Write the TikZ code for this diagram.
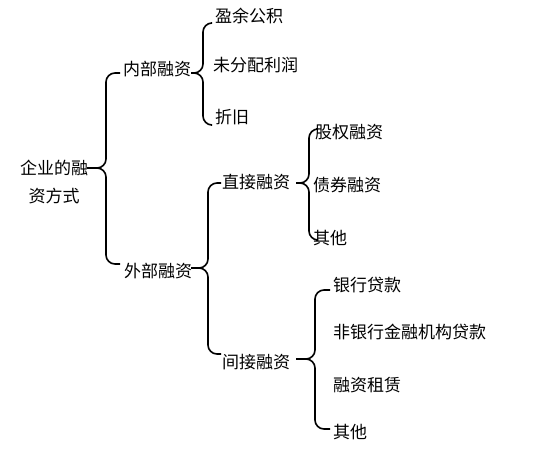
\documentclass[tikz,border=0pt]{standalone}
\usepackage{fontspec}
\setmainfont{Noto Sans CJK SC}
\begin{document}
\begin{tikzpicture}[x=1pt,y=-1pt,
  lbl/.style={anchor=west,inner sep=0pt,font=\fontsize{17}{28}\selectfont},
  brace/.style={line width=1.6pt,rounded corners=9pt},
  stub/.style={line width=2.6pt}]
\useasboundingbox (0,0) rectangle (544,453);
% texts
\node[inner sep=0pt,align=center,font=\fontsize{17}{28.5}\selectfont] (root) at (54,182) {企业的融\\资方式};
\node[lbl] (nb) at (123,69) {内部融资};
\node[lbl] (wb) at (124,271) {外部融资};
\node[lbl] (yy) at (215,16) {盈余公积};
\node[lbl] (wf) at (213,65) {未分配利润};
\node[lbl] (zj) at (215,117) {折旧};
\node[lbl] (zjr) at (222,182) {直接融资};
\node[lbl] (jjr) at (222,362) {间接融资};
\node[lbl] (gq) at (315,132) {股权融资};
\node[lbl] (zq) at (313,185) {债券融资};
\node[lbl] (qt1) at (313,238) {其他};
\node[lbl] (yh) at (333,285) {银行贷款};
\node[lbl] (fyh) at (333,332) {非银行金融机构贷款};
\node[lbl] (rz) at (333,385) {融资租赁};
\node[lbl] (qt2) at (333,432) {其他};
% brace anchors
\coordinate (b1s) at (87,168);  \coordinate (b1t) at (97,168);
\coordinate (b1a) at (120,73);  \coordinate (b1b) at (120,264);
\coordinate (b2s) at (191,73);  \coordinate (b2t) at (198,73);
\coordinate (b2a) at (211,23);  \coordinate (b2b) at (211,125);
\coordinate (b3s) at (191,268); \coordinate (b3t) at (200,268);
\coordinate (b3a) at (221,183); \coordinate (b3b) at (221,354);
\coordinate (b4s) at (296,183); \coordinate (b4t) at (304,183);
\coordinate (b4a) at (316,129); \coordinate (b4b) at (316,240);
\coordinate (b5s) at (296,359); \coordinate (b5t) at (308,359);
\coordinate (b5a) at (330,290); \coordinate (b5b) at (330,429);
% braces
\foreach \b/\v in {b1/106,b2/203,b3/208,b4/309,b5/315}{
  \draw[brace] (\b a) -- (\v,0 |- \b a) -- (\v,0 |- \b t) -- (\b s);
  \draw[brace] (\b b) -- (\v,0 |- \b b) -- (\v,0 |- \b t) -- (\b s);
  \draw[stub] (\b s) -- (\b t);
}
\end{tikzpicture}
\end{document}
